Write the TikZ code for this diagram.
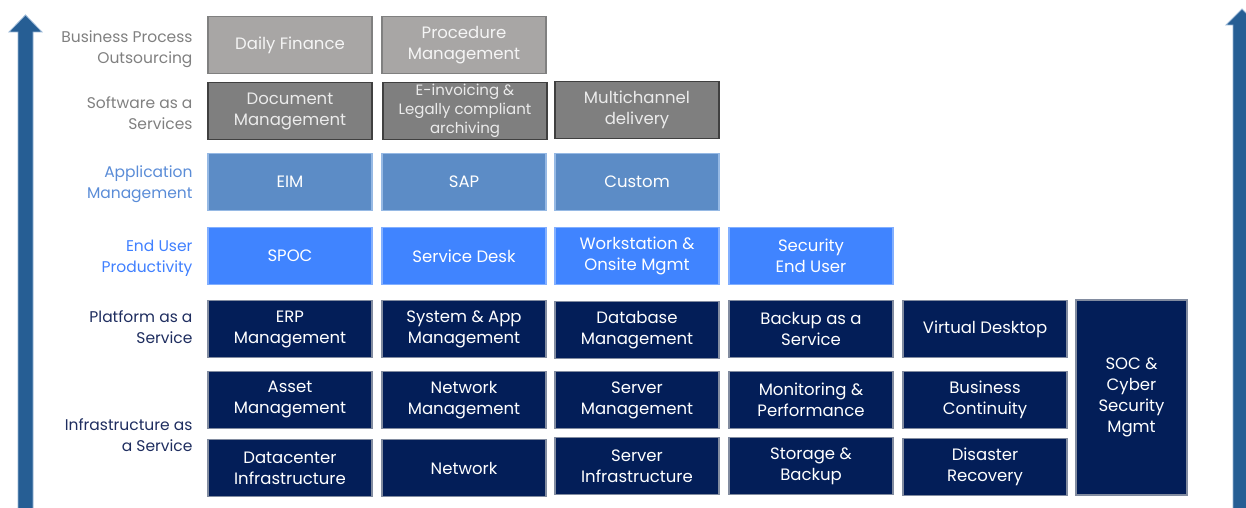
\documentclass[tikz,border=0pt]{standalone}
\usepackage{fontspec}
\setmainfont{Poppins}
\definecolor{arrowblue}{RGB}{38,94,148}
\definecolor{arrowedge}{RGB}{150,180,212}
\definecolor{bpofill}{RGB}{168,166,165}
\definecolor{bpoline}{RGB}{128,128,128}
\definecolor{bpotext}{RGB}{245,245,245}
\definecolor{saasfill}{RGB}{127,127,127}
\definecolor{saasline}{RGB}{64,64,64}
\definecolor{saastext}{RGB}{235,235,235}
\definecolor{appfill}{RGB}{92,140,198}
\definecolor{appline}{RGB}{150,185,228}
\definecolor{eufill}{RGB}{64,132,255}
\definecolor{euline}{RGB}{130,175,255}
\definecolor{navyfill}{RGB}{3,30,88}
\definecolor{navyline}{RGB}{130,140,160}
\definecolor{graytext}{RGB}{128,128,128}
\definecolor{apptext}{RGB}{90,140,215}
\definecolor{eutext}{RGB}{64,128,255}
\definecolor{navytext}{RGB}{30,45,95}

\begin{document}
\begin{tikzpicture}[x=1pt,y=-1pt,
  every node/.style={font=\fontsize{16.5}{21}\selectfont,align=center},
  tile/.style={minimum width=164pt,minimum height=57pt,inner sep=0pt,
    line width=1.5pt,text=white},
  bpo/.style={tile,fill=bpofill,draw=bpoline,text=bpotext},
  saas/.style={tile,fill=saasfill,draw=saasline,text=saastext},
  appm/.style={tile,fill=appfill,draw=appline},
  enduser/.style={tile,fill=eufill,draw=euline},
  infra/.style={tile,fill=navyfill,draw=navyline},
  layer/.style={anchor=east,align=right,font=\fontsize{15.5}{21}\selectfont},
  bigarrow/.style={fill=arrowblue,draw=arrowedge,line width=0.8pt}]
\useasboundingbox (0,0) rectangle (1246,508);
\clip (0,0) rectangle (1246,508);

% arrows on both sides
\path[bigarrow] (18,510) -- (18,32) -- (9,32) -- (25.5,15) -- (42,32)
  -- (33,32) -- (33,510) -- cycle;
\path[bigarrow] (1233,510) -- (1233,25) -- (1226,25) -- (1242,9) -- (1258,25)
  -- (1251,25) -- (1251,510) -- cycle;

% layer names
\node[layer,text=graytext] (lbpo) at (196,49) {Business Process\\Outsourcing};
\node[layer,text=graytext] (lsaas) at (196,113) {Software as a\\Services};
\node[layer,text=apptext] (lapp) at (196,184) {Application\\Management};
\node[layer,text=eutext] (leup) at (196,258) {End User\\Productivity};
\node[layer,text=navytext] (lpaas) at (196,327) {Platform as a\\Service};
\node[layer,text=navytext] (liaas) at (196,435) {Infrastructure as\\a Service};

% business process outsourcing
\node[bpo] (dailyfin) at (290,45) {Daily Finance};
\node[bpo] (procmgmt) at (464,45) {Procedure\\Management};

% software as a service
\node[saas] (docmgmt) at (290,111) {Document\\Management};
\node[saas,font=\fontsize{15}{19}\selectfont] (einvoice) at (465,111)
  {E-invoicing \&\\Legally compliant\\archiving};
\node[saas] (multichan) at (637,110) {Multichannel\\delivery};

% application management
\node[appm] (eim) at (290,182) {EIM};
\node[appm] (sap) at (464,182) {SAP};
\node[appm] (custom) at (637,182) {Custom};

% end user productivity
\node[enduser] (spoc) at (290,256) {SPOC};
\node[enduser] (servicedesk) at (464,256) {Service Desk};
\node[enduser] (workstation) at (637,256) {Workstation \&\\Onsite Mgmt};
\node[enduser] (secuser) at (811,256) {Security\\End User};

% platform as a service
\node[infra] (erp) at (290,329) {ERP\\Management};
\node[infra] (sysapp) at (464,329) {System \& App\\Management};
\node[infra] (database) at (637,330) {Database\\Management};
\node[infra] (backup) at (811,329) {Backup as a\\Service};
\node[infra] (vdesktop) at (985,329) {Virtual Desktop};

% infrastructure as a service
\node[infra] (asset) at (290,400) {Asset\\Management};
\node[infra] (netmgmt) at (464,400) {Network\\Management};
\node[infra] (servmgmt) at (637,400) {Server\\Management};
\node[infra] (monitor) at (811,400) {Monitoring \&\\Performance};
\node[infra] (buscont) at (985,400) {Business\\Continuity};
\node[infra] (datacenter) at (290,468) {Datacenter\\Infrastructure};
\node[infra] (network) at (464,468) {Network};
\node[infra] (servinfra) at (637,466) {Server\\Infrastructure};
\node[infra] (storage) at (811,466) {Storage \&\\Backup};
\node[infra] (disaster) at (985,467) {Disaster\\Recovery};

% security across the stack
\node[infra,minimum width=111pt,minimum height=195pt] (soc) at (1131.5,397.5)
  {SOC \&\\Cyber\\Security\\Mgmt};
\end{tikzpicture}
\end{document}
